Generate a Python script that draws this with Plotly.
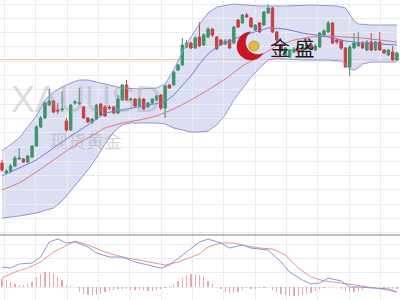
import numpy as np
import plotly.graph_objects as go

# ---- price candles (XAUUSD) ----
opens = [1299.25, 1296.75, 1297.25, 1298.5, 1300.25, 1300.25, 1299.5, 1300.75, 1303.5, 1308.25,
         1310.5, 1313.75, 1314.75, 1312.5, 1312.5, 1309.75, 1307.5, 1314.25, 1314, 1313.25,
         1310.5, 1309.5, 1310.25, 1314, 1313.25, 1313.25, 1313.25, 1311.75, 1315, 1318.75,
         1315, 1315.25, 1313.5, 1315.25, 1313.25, 1314.25, 1315, 1316.25, 1313, 1318.75,
         1318.75, 1322.5, 1323.75, 1328.25, 1329.25, 1328, 1330.75, 1328.75, 1330.75, 1332.75,
         1330.75, 1330, 1329, 1330, 1329.25, 1335, 1334.25, 1336.25, 1335.5, 1332.5,
         1334.25, 1333.75, 1336.75, 1338, 1332, 1328.75, 1326.25, 1325.75, 1327, 1328,
         1327, 1327.75, 1328.75, 1327.5, 1328.25, 1331.25, 1332, 1334.25, 1330, 1329.75,
         1328, 1323.25, 1328, 1328.5, 1329.25, 1327.5, 1329.5, 1327.5, 1329.5, 1327.5,
         1326.25, 1327, 1325]
closes = [1297.5, 1297.25, 1298.5, 1300.5, 1300.5, 1299.5, 1301, 1303.5, 1308.25, 1310.5,
          1314.25, 1314.75, 1312, 1312.25, 1312.75, 1307.5, 1313.75, 1314.5, 1314.25, 1310.5,
          1309.5, 1310.25, 1313.75, 1311.25, 1311, 1313, 1311.75, 1315.25, 1318.75, 1315,
          1315.25, 1313.5, 1315.25, 1312.75, 1314.25, 1315.25, 1316, 1313, 1318.5, 1318,
          1322, 1323.75, 1328.75, 1329.25, 1328, 1330.5, 1328.5, 1331.25, 1332.75, 1331.25,
          1327.75, 1328.75, 1329.75, 1328, 1333.25, 1333.25, 1336.25, 1335.75, 1333.25, 1333.75,
          1332, 1337, 1338, 1332, 1330, 1327.25, 1328, 1327.5, 1327.75, 1327,
          1328.25, 1328.75, 1328, 1328.5, 1331.75, 1332.25, 1334.25, 1329.25, 1329.5, 1328,
          1323.25, 1328.25, 1329.25, 1329.25, 1328, 1329.5, 1327.5, 1329.5, 1327.5, 1326.75,
          1327.5, 1325, 1326.75]
highs = [1300, 1297.75, 1299, 1301, 1303, 1300.5, 1301.25, 1303.75, 1308.75, 1311,
         1314.75, 1317.75, 1315, 1314.25, 1317, 1310.5, 1314, 1315, 1318, 1313.5,
         1310.75, 1310.5, 1314, 1314.25, 1313.75, 1313.75, 1313.5, 1316.25, 1319, 1320,
         1315.75, 1315.5, 1315.75, 1315.5, 1314.5, 1315.5, 1316.25, 1316.5, 1318.75, 1319,
         1322.25, 1324, 1330.5, 1330, 1329.5, 1331, 1334.5, 1331.75, 1333.25, 1333,
         1331, 1330.25, 1330.25, 1330.25, 1333.5, 1335.25, 1336.5, 1336.75, 1335.75, 1334,
         1334.5, 1337.25, 1339, 1338.25, 1332.25, 1329, 1328.25, 1327.75, 1328.25, 1328.5,
         1328.75, 1329.25, 1329, 1329, 1332, 1332.75, 1334.75, 1334.5, 1330.5, 1330.25,
         1328.25, 1328.75, 1331.75, 1332, 1329.75, 1330, 1331.75, 1329.75, 1332, 1327.75,
         1327.75, 1328.5, 1327]
lows = [1297, 1296.5, 1296.75, 1298.25, 1300, 1299.25, 1299.25, 1300.5, 1303.25, 1308,
        1310.25, 1313.5, 1311.75, 1311.5, 1312, 1307, 1307.25, 1313.75, 1313.75, 1310.25,
        1309.25, 1309, 1310, 1311, 1310.75, 1312.5, 1311.5, 1311.5, 1314.75, 1314.75,
        1314.75, 1313.25, 1313.25, 1312.5, 1313, 1314, 1314.75, 1312.5, 1310.5, 1317.75,
        1318.5, 1322.25, 1323.5, 1328, 1327.75, 1327.75, 1328.25, 1328.5, 1330.5, 1330.75,
        1327.5, 1328.5, 1328.75, 1327.75, 1329, 1333, 1334, 1335.5, 1333, 1332.25,
        1331.75, 1333.5, 1336.5, 1331.75, 1329.5, 1327, 1326, 1325.5, 1326.75, 1326.75,
        1326.75, 1327.5, 1327.75, 1327.25, 1328, 1331, 1331.75, 1329, 1329, 1327.5,
        1323, 1321, 1327.75, 1328.25, 1327.75, 1327.25, 1327.25, 1327.25, 1327.25, 1326.5,
        1326, 1324.75, 1324.75]
bar_idx = list(range(len(opens)))

# ---- Bollinger bands and moving average ----
boll_up_i = [0, 4, 8, 10, 12, 14, 16, 18, 20, 22, 24, 26, 28, 32, 36, 38, 40, 42, 44, 46,
             48, 50, 54, 60, 66, 72, 78, 80, 81, 82, 83, 86, 92]
boll_up = [1302.25, 1305.5, 1311, 1315, 1317, 1318.25, 1319.25, 1320, 1320, 1319.5,
           1319, 1318.5, 1318, 1317.75, 1318, 1319, 1322.5, 1327, 1330.75, 1334,
           1336.75, 1338.25, 1339, 1338.5, 1338.5, 1338.75, 1338.5, 1338, 1336.5, 1334.75,
           1334, 1333.75, 1333.75]
boll_dn_i = [0, 4, 8, 12, 14, 16, 18, 20, 22, 24, 26, 28, 30, 36, 38, 40, 42, 44, 46, 48,
             50, 52, 54, 56, 58, 60, 62, 64, 66, 70, 76, 79, 80, 81, 82, 83, 84, 86, 92]
boll_dn = [1285.5, 1286, 1286.75, 1288, 1289.75, 1292.25, 1294.75, 1297.5, 1300.5, 1304,
           1307, 1308.75, 1309.25, 1309.25, 1309, 1308, 1307.5, 1307, 1307, 1307.25,
           1308.75, 1311.25, 1315, 1318, 1320.75, 1323, 1325, 1325.5, 1325.25, 1325,
           1325, 1324.75, 1324, 1322.75, 1322.5, 1323, 1324, 1324.5, 1324.5]
boll_mid_i = [0, 4, 8, 12, 16, 20, 24, 28, 32, 36, 38, 40, 42, 44, 46, 48, 50, 54, 58, 62,
              66, 70, 76, 80, 84, 92]
boll_mid = [1296, 1298, 1300, 1303, 1306, 1308.75, 1311.75, 1312.5, 1313.25, 1314,
            1314.5, 1316.25, 1318.5, 1321, 1324, 1326.5, 1328.25, 1330.25, 1331.75, 1333,
            1332.75, 1331.75, 1330.75, 1329.75, 1329.25, 1328.75]
ma_i = [0, 4, 8, 12, 16, 20, 24, 28, 32, 36, 40, 44, 48, 52, 56, 60, 64, 68, 72, 76,
        80, 84, 88, 92]
ma_line = [1292.5, 1294.25, 1297, 1300, 1303, 1305.5, 1308, 1309.25, 1310, 1311,
           1312.75, 1315, 1317.5, 1320.25, 1323.5, 1326, 1328.5, 1330, 1330.75, 1331,
           1330.75, 1330.5, 1330, 1329.5]
ref_level = 1325.1

# ---- MACD ----
dif_i = [0, 2, 4, 7, 9, 11, 13, 15, 17, 20, 22, 25, 28, 31, 34, 37, 39, 42, 44, 46,
         48, 51, 53, 56, 58, 61, 62, 65, 67, 70, 72, 74, 76, 79, 81, 83, 86, 90, 92]
dif = [2.0, 1.9, 2.3, 2.4, 3.0, 4.5, 4.8, 4.4, 4.5, 4.0, 3.4, 3.0, 3.0, 2.5, 2.2, 1.9,
       2.2, 3.2, 3.9, 4.5, 4.8, 4.4, 3.9, 4.2, 3.9, 3.8, 3.7, 2.5, 1.5, 0.7, 0.3, 0.4,
       0.9, 0.6, 0.0, 0.0, -0.1, -0.2, -0.5]
dea_i = [0, 3, 6, 9, 12, 15, 17, 20, 24, 28, 32, 36, 38, 41, 44, 46, 48, 51, 54, 57,
         60, 63, 66, 69, 72, 75, 79, 82, 86, 90, 92]
dea = [0.9, 1.5, 1.9, 2.5, 3.5, 4.2, 4.6, 4.2, 3.5, 3.0, 2.7, 2.4, 2.2, 2.5, 3.0, 3.3,
       4.0, 4.4, 4.4, 4.1, 3.9, 3.8, 3.2, 1.9, 1.0, 0.6, 0.4, 0.2, 0.0, -0.3, -0.5]
macd_hist = [0.8, 0.7, 0.5, 0.3, 0.2, 0.2, 0.3, 0.5,
             1.0, 1.3, 1.5, 1.5, 1.3, 1.0, 0.7,
             0.2, 0.1, 0.0,
             -0.5, -0.7, -0.8, -0.8, -0.8, -0.7, -0.5, -0.3,
             -0.3, -0.2,
             -0.2, -0.2, -0.3, -0.3, -0.3, -0.3, -0.4, -0.4, -0.3, -0.2, -0.1,
             0.1,
             0.3, 0.6, 0.9, 1.2, 1.3, 1.3, 1.2,
             1.0, 0.6, 0.3,
             0.0, -0.2,
             -0.5, -0.6, -0.6, -0.5, -0.3,
             -0.1, -0.2, -0.2, -0.1, -0.1,
             0.0,
             -0.3, -0.5, -0.7, -0.8, -0.9, -0.9, -0.9, -0.8, -0.7, -0.6, -0.4,
             -0.2, -0.1, 0.0, 0.1, 0.0,
             -0.2, -0.4, -0.5, -0.5, -0.4, -0.3,
             -0.1, -0.1, -0.1, -0.1, -0.2, -0.2, -0.2, -0.2]

W, H = 400, 300
SPLIT = 65 / 300  # MACD pane height fraction

GREEN = "#3f9468"
RED = "#c8403f"
BAND_LINE = "rgb(150,150,205)"

fig = go.Figure()

fig.add_trace(go.Scatter(x=boll_up_i, y=boll_up, mode="lines",
                         line=dict(color=BAND_LINE, width=1), xaxis="x", yaxis="y"))
fig.add_trace(go.Scatter(x=boll_dn_i, y=boll_dn, mode="lines",
                         line=dict(color=BAND_LINE, width=1), xaxis="x", yaxis="y"))
fig.add_trace(go.Scatter(x=ma_i, y=ma_line, mode="lines",
                         line=dict(color="rgb(226,120,120)", width=1), xaxis="x", yaxis="y"))
fig.add_trace(go.Scatter(x=boll_mid_i, y=boll_mid, mode="lines",
                         line=dict(color="rgb(110,128,212)", width=1), xaxis="x", yaxis="y"))

fig.add_trace(go.Candlestick(
    x=bar_idx, open=opens, high=highs, low=lows, close=closes,
    increasing=dict(line=dict(color=GREEN, width=1), fillcolor=GREEN),
    decreasing=dict(line=dict(color=RED, width=1), fillcolor=RED),
    whiskerwidth=0, xaxis="x", yaxis="y"))

fig.add_trace(go.Bar(x=bar_idx, y=macd_hist, width=0.3,
                     marker=dict(color="rgba(226,140,150,0.75)", line=dict(width=0)),
                     xaxis="x2", yaxis="y2"))
fig.add_trace(go.Scatter(x=dea_i, y=dea, mode="lines",
                         line=dict(color="rgb(228,150,150)", width=1), xaxis="x2", yaxis="y2"))
fig.add_trace(go.Scatter(x=dif_i, y=dif, mode="lines",
                         line=dict(color="rgb(140,150,215)", width=1), xaxis="x2", yaxis="y2"))

# band fill underneath the candles
band_path = ("M " + " L ".join(f"{x},{y}" for x, y in zip(boll_up_i, boll_up)) + " L "
             + " L ".join(f"{x},{y}" for x, y in zip(boll_dn_i[::-1], boll_dn[::-1])) + " Z")

shapes = [
    dict(type="path", path=band_path, xref="x", yref="y", layer="below",
         fillcolor="rgba(205,208,240,0.7)", line=dict(width=0)),
    dict(type="line", xref="paper", yref="y", x0=0, x1=1, y0=ref_level, y1=ref_level,
         line=dict(color="rgba(240,170,130,0.8)", width=1), layer="below"),
    dict(type="line", xref="paper", yref="paper", x0=0, x1=1, y0=SPLIT, y1=SPLIT,
         line=dict(color="#a8a8a8", width=1.5)),
]


def px2paper(x, y):
    return x / W, 1 - y / H


def crescent_path(cx, cy, r, ix, iy, ir, n=48):
    d = np.arctan2(iy - cy, ix - cx)
    dist = np.hypot(ix - cx, iy - cy)
    a = np.arccos((r * r + dist * dist - ir * ir) / (2 * r * dist))
    g = np.arccos((ir * ir + dist * dist - r * r) / (2 * ir * dist))
    t_out = np.linspace(d + a, d + 2 * np.pi - a, n)
    ox, oy = cx + r * np.cos(t_out), cy + r * np.sin(t_out)
    t_in = np.linspace(d + np.pi - g, d + np.pi + g, n)
    qx, qy = ix + ir * np.cos(t_in), iy + ir * np.sin(t_in)
    if np.hypot(qx[0] - ox[-1], qy[0] - oy[-1]) > np.hypot(qx[-1] - ox[-1], qy[-1] - oy[-1]):
        qx, qy = qx[::-1], qy[::-1]
    xs, ys = np.concatenate([ox, qx]), np.concatenate([oy, qy])
    pts = [px2paper(x, y) for x, y in zip(xs, ys)]
    return "M " + " L ".join(f"{x:.5f},{y:.5f}" for x, y in pts) + " Z"


def circle(cx, cy, r, fill, line):
    x0, y1 = px2paper(cx - r, cy - r)
    x1, y0 = px2paper(cx + r, cy + r)
    return dict(type="circle", xref="paper", yref="paper", x0=x0, x1=x1, y0=y0, y1=y1,
                fillcolor=fill, line=dict(color=line, width=1))


# brand mark
shapes.append(dict(type="path", xref="paper", yref="paper",
                   path=crescent_path(251, 46, 14, 258, 42, 12.5),
                   fillcolor="rgb(200,22,36)", line=dict(color="rgb(170,15,25)", width=0.5)))
shapes.append(circle(254, 46, 5, "rgb(226,186,70)", "rgb(200,150,40)"))


def label(text, cx, cy, font):
    x, y = px2paper(cx, cy)
    return dict(text=text, x=x, y=y, xref="paper", yref="paper", xanchor="center",
                yanchor="middle", showarrow=False, font=font)


annotations = [
    label("XAUUSD", 86, 100, dict(family="Liberation Sans", size=36,
                                  color="rgba(150,150,150,0.32)")),
    label("现货黄金", 86, 140, dict(family="Noto Sans CJK SC", size=18,
                                 color="rgba(140,140,140,0.35)")),
    label("金 盛", 292, 47, dict(family="Noto Sans CJK SC", size=20, color="#1c1c1c")),
]

grid = "#ececec"
xcommon = dict(range=[-0.466, 92.71], showgrid=True, gridcolor=grid, gridwidth=1,
               tick0=0.6, dtick=7.3, showticklabels=False, zeroline=False,
               showline=False, ticks="")

fig.update_layout(
    width=W, height=H, margin=dict(l=0, r=0, t=0, b=0),
    paper_bgcolor="white", plot_bgcolor="white", showlegend=False,
    hovermode=False, bargap=0, boxgap=0.2,
    xaxis=dict(**xcommon, domain=[0, 1], anchor="y", rangeslider=dict(visible=False)),
    xaxis2=dict(**xcommon, domain=[0, 1], anchor="y2", matches="x"),
    yaxis=dict(domain=[SPLIT, 1], range=[1281.25, 1340], showgrid=True, gridcolor=grid,
               tick0=1339, dtick=3.575, showticklabels=False, zeroline=False, ticks=""),
    yaxis2=dict(domain=[0, SPLIT], range=[-1.3, 5.2], showgrid=True, gridcolor=grid,
                tick0=0, dtick=1.43, showticklabels=False, zeroline=False, ticks=""),
    shapes=shapes, annotations=annotations,
)

fig.write_html("out.html", config=dict(displayModeBar=False))
